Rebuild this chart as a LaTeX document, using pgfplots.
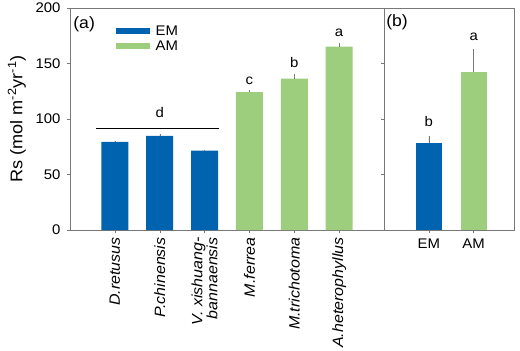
\documentclass[border=0pt]{standalone}
\usepackage{fontspec}
\setmainfont{Liberation Sans}[FakeStretch=1.07]
\usepackage{pgfplots}
\pgfplotsset{compat=1.18}
\definecolor{emblue}{RGB}{0,99,175}
\definecolor{amgreen}{RGB}{157,206,125}
\definecolor{axgray}{RGB}{120,120,120}
\newcommand{\tickfont}{\fontsize{14}{15}\selectfont}
\begin{document}
\begin{tikzpicture}
\path[use as bounding box] (-70bp,-121bp) rectangle (450bp,230bp);
\pgfplotsset{
  common/.style={
    scale only axis, height=222bp,
    ymin=0, ymax=200,
    axis line style={axgray},
    tick style={axgray, thin},
    tick align=outside,
    major tick length=3bp,
    xtick pos=bottom, ytick pos=left,
    tick label style={font=\tickfont},
    /pgf/number format/assume math mode=true,
    error bars/error bar style={axgray, thin},
  }
}
% Panel (a)
\begin{axis}[common,
  at={(0bp,0bp)}, anchor=south west,
  width=314bp,
  xmin=0, xmax=7,
  ytick={0,50,100,150,200},
  yticklabel style={xshift=-3bp},
  xtick={1,2,3,4,5,6},
  xticklabels={D.retusus, P.chinensis, {V. xishuang-\\bannaensis}, M.ferrea, M.trichotoma, A.heterophyllus},
  xticklabel style={rotate=90, anchor=east, align=right, font=\fontsize{15}{15}\selectfont\itshape, xshift=-1bp},
  ylabel={Rs (mol m\textsuperscript{-2}yr\textsuperscript{-1})},
  ylabel style={at={(axis description cs:-0.169,0.5)}, anchor=center, font=\fontsize{17}{19}\selectfont},
  legend style={at={(axis description cs:0.135,0.94)}, anchor=north west, draw=none, fill=none, font=\tickfont, row sep=0bp},
  legend cell align=left,
  legend image code/.code={\fill[#1] (0bp,-2.8bp) rectangle (34bp,2.8bp); \path (0bp,0bp) -- (38bp,0bp);},
]
\addplot[ybar, bar width=27bp, bar shift=0pt, fill=emblue, draw=none,
  error bars/.cd, y dir=plus, y explicit, error mark=none]
  coordinates {(1,79.5) +- (0,1) (2,84.7) +- (0,2) (3,71.6) +- (0,0.5)};
\addlegendentry{EM}
\addplot[ybar, bar width=27bp, bar shift=0pt, fill=amgreen, draw=none,
  error bars/.cd, y dir=plus, y explicit, error mark=none]
  coordinates {(4,124.3) +- (0,2) (5,136.3) +- (0,4) (6,165.1) +- (0,3.5)};
\addlegendentry{AM}
\addplot[black, thin, no marks, forget plot] coordinates {(0.59,91.3) (3.33,91.3)};
\node[font=\tickfont] at (axis cs:2,105.7) {d};
\node[font=\tickfont] at (axis cs:4,134.5) {c};
\node[font=\tickfont] at (axis cs:5,151) {b};
\node[font=\tickfont] at (axis cs:6,177.5) {a};
\node[font=\fontsize{16.5}{18}\selectfont] at (axis description cs:0.045,0.928) {(a)};
\end{axis}
% Panel (b)
\begin{axis}[common,
  at={(314bp,0bp)}, anchor=south west,
  width=130bp,
  xmin=0, xmax=2.9,
  ytick={0,50,100,150,200},
  yticklabels={},
  xtick={1,2},
  xticklabels={EM,AM},
  xticklabel style={anchor=north, yshift=-2bp},
]
\addplot[ybar, bar width=26bp, bar shift=0pt, fill=emblue, draw=none,
  error bars/.cd, y dir=plus, y explicit, error mark=none]
  coordinates {(1,78.1) +- (0,6.5)};
\addplot[ybar, bar width=26bp, bar shift=0pt, fill=amgreen, draw=none,
  error bars/.cd, y dir=plus, y explicit, error mark=none]
  coordinates {(2,142) +- (0,21.5)};
\node[font=\tickfont] at (axis cs:1,97.6) {b};
\node[font=\tickfont] at (axis cs:2,174) {a};
\node[font=\fontsize{16.5}{18}\selectfont] at (axis description cs:0.1,0.937) {(b)};
\end{axis}
\end{tikzpicture}
\end{document}
